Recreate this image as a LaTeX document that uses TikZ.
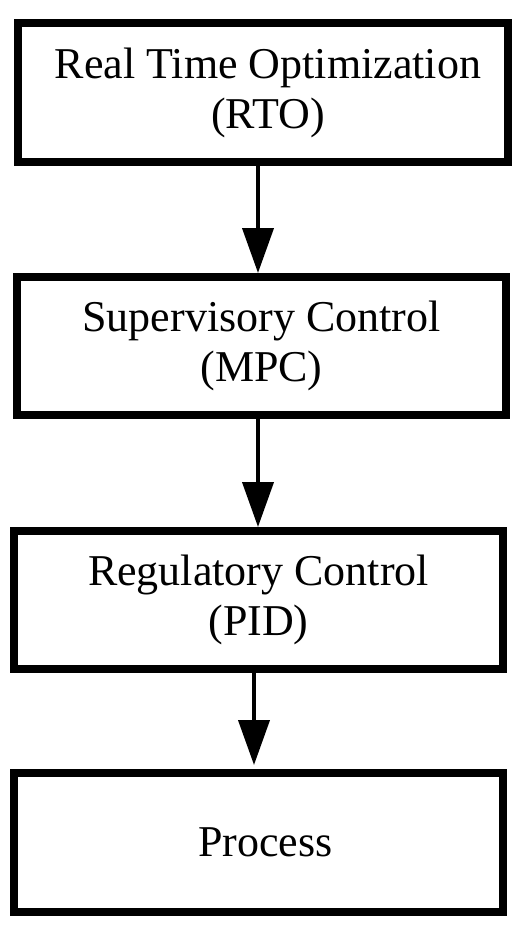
\documentclass[tikz,border=0pt]{standalone}
\usepackage{fontspec}
\setmainfont{Liberation Serif}
\usetikzlibrary{arrows.meta}
\begin{document}
\begin{tikzpicture}[x=1pt,y=-1pt,
  blockbox/.style={draw=black,line width=8pt,fill=white,inner sep=0pt,
    minimum width=490pt,minimum height=139pt,align=center,
    font=\fontsize{44}{50}\selectfont},
  flowarrow/.style={draw=black,line width=4pt,-{Triangle[width=31pt,length=45pt]}}]
\useasboundingbox (0,0) rectangle (532,928);
\node[blockbox] (b1) at (263,92.5) {\hspace*{10pt}Real Time Optimization\\\hspace*{10pt}(RTO)};
\node[blockbox,minimum width=489pt,minimum height=138pt] (b2) at (261.5,346) {Supervisory Control\\(MPC)};
\node[blockbox,minimum width=489pt,minimum height=138pt] (b3) at (258.5,600) {Regulatory Control\\(PID)};
\node[blockbox,minimum width=489pt] (b4) at (258.5,842.5) {\hspace*{14pt}Process};
\coordinate (xa) at (258,0);
\coordinate (xb) at (254,0);
\draw[flowarrow] (b1.south -| xa) -- (b2.north -| xa);
\draw[flowarrow] (b2.south -| xa) -- (b3.north -| xa);
\draw[flowarrow] (b3.south -| xb) -- ([yshift=4pt]b4.north -| xb);
\end{tikzpicture}
\end{document}
